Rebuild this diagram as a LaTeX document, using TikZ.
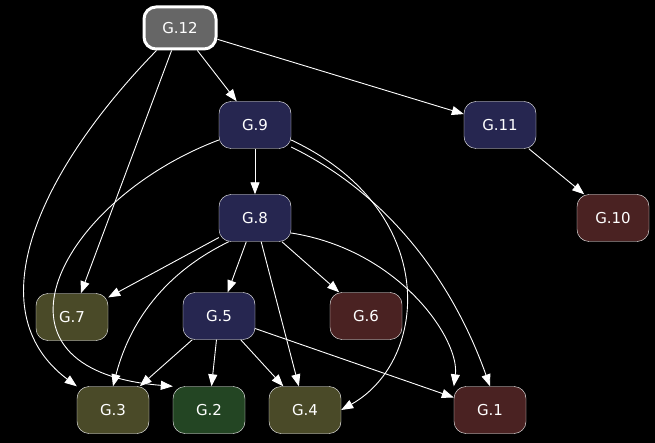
\documentclass[tikz,border=0pt]{standalone}
\usepackage{fontspec}
\setmainfont{DejaVu Sans}
\usetikzlibrary{arrows.meta}
\definecolor{nav}{HTML}{262650}
\definecolor{red}{HTML}{4A2222}
\definecolor{oli}{HTML}{4A4A28}
\definecolor{grn}{HTML}{234523}
\definecolor{gry}{HTML}{666666}
\begin{document}
\begin{tikzpicture}[x=1pt,y=-1pt,
 n/.style={draw=white,rounded corners=12pt,minimum width=72pt,minimum height=47pt,text=white,font=\fontsize{15}{18}\selectfont,inner sep=0pt},
 e/.style={draw=white,line width=0.9pt,-{Triangle[length=12pt,width=9pt]}}]
\fill[black] (0,0) rectangle (655,443);
\useasboundingbox (0,0) rectangle (655,443);
\node[n,fill=gry,line width=3pt,minimum height=42pt] (g12) at (180,28) {G.12};
\node[n,fill=nav] (g9) at (255,125) {G.9};
\node[n,fill=nav] (g11) at (500,125) {G.11};
\node[n,fill=nav] (g8) at (255,218) {G.8};
\node[n,fill=red] (g10) at (613,218) {G.10};
\node[n,fill=oli] (g7) at (72,317) {G.7};
\node[n,fill=nav] (g5) at (219,316) {G.5};
\node[n,fill=red] (g6) at (366,316) {G.6};
\node[n,fill=oli] (g3) at (113,410) {G.3};
\node[n,fill=grn] (g2) at (209,410) {G.2};
\node[n,fill=oli] (g4) at (305,410) {G.4};
\node[n,fill=red] (g1) at (490,410) {G.1};
\draw[e] (g12) -- (g9);
\draw[e] (g12) -- (g11);
\draw[e] (g12) -- (g7);
\draw[e] (g12.south west) ++(14,0) .. controls (40,170) and (-25,310) .. (g3.north west);
\draw[e] (g11) -- (g10);
\draw[e] (g9) -- (g8);
\draw[e] (g9.west) ++(0,15) .. controls (60,200) and (-30,370) .. (g2.north west);
\draw[e] (g9.east) ++(0,15) .. controls (440,210) and (430,360) .. (g4.east);
\draw[e] (g9.east) ++(0,22) .. controls (420,210) and (470,330) .. (g1.north);
\draw[e] (g8) -- (g7);
\draw[e] (g8) -- (g5);
\draw[e] (g8) -- (g6);
\draw[e] (g8) -- (g4);
\draw[e] (g8.south west) ++(10,0) .. controls (150,280) and (125,340) .. (g3.north);
\draw[e] (g8.east) ++(0,15) .. controls (400,250) and (460,340) .. (g1.north west);
\draw[e] (g5) -- (g3);
\draw[e] (g5) -- (g2);
\draw[e] (g5) -- (g4);
\draw[e] (g5) -- (g1);
\end{tikzpicture}
\end{document}
